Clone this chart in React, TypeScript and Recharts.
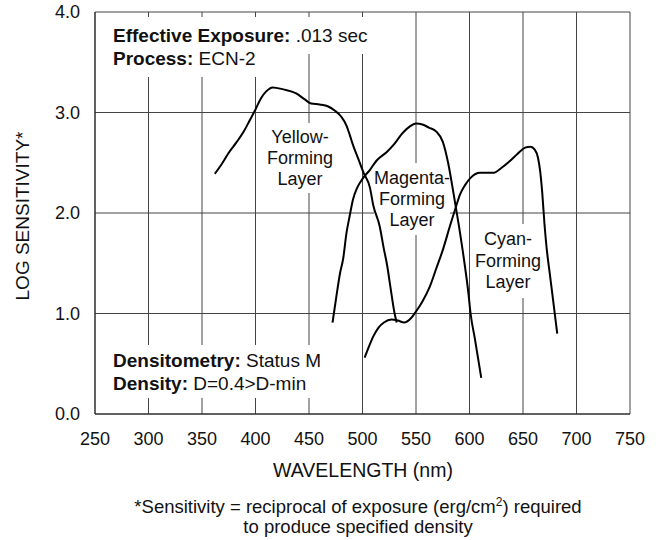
import React, { useLayoutEffect, useRef, useState } from 'react';
import { LineChart, Line, XAxis, YAxis, CartesianGrid, Customized } from 'recharts';

const FONT = '"Liberation Sans", Arial, Helvetica, sans-serif';

// spectral sensitivity curves, wavelength (nm) vs log sensitivity
const yellowNm = [362, 368, 375, 382, 389, 395, 400, 405, 410, 416, 426, 438, 446, 452, 460, 468, 474, 480, 485, 488, 491, 496, 501, 507, 510, 516, 520, 523, 526, 530, 532];
const yellowLog = [2.39, 2.48, 2.6, 2.7, 2.81, 2.93, 3.03, 3.14, 3.21, 3.25, 3.23, 3.19, 3.13, 3.09, 3.08, 3.06, 3.02, 2.96, 2.87, 2.78, 2.68, 2.54, 2.4, 2.25, 2.08, 1.87, 1.64, 1.48, 1.27, 1.0, 0.91];

const magentaNm = [472, 476, 479, 482, 485, 488, 491, 495, 500, 507, 513, 523, 530, 537, 544, 550, 556, 562, 569, 575, 580, 585, 590, 594, 599, 601, 605, 611];
const magentaLog = [0.91, 1.2, 1.4, 1.55, 1.8, 1.97, 2.13, 2.25, 2.34, 2.43, 2.52, 2.61, 2.69, 2.79, 2.86, 2.89, 2.88, 2.85, 2.81, 2.71, 2.5, 2.2, 1.88, 1.6, 1.2, 1.0, 0.75, 0.36];

const cyanNm = [502, 506, 510, 515, 520, 527, 533, 539, 545, 550, 556, 563, 569, 575, 582, 587, 591, 596, 601, 610, 622, 630, 637, 645, 652, 657, 661, 664, 666, 668, 670, 672, 675, 677, 682];
const cyanLog = [0.56, 0.67, 0.77, 0.86, 0.91, 0.94, 0.93, 0.91, 0.95, 1.02, 1.12, 1.27, 1.45, 1.63, 1.88, 2.05, 2.18, 2.28, 2.35, 2.4, 2.4, 2.45, 2.51, 2.59, 2.65, 2.66, 2.63, 2.55, 2.42, 2.2, 1.9, 1.66, 1.4, 1.23, 0.8];

const xTicks = [250, 300, 350, 400, 450, 500, 550, 600, 650, 700, 750];
const yTicks = [0, 1, 2, 3, 4];

const toPoints = (nm: number[], v: number[]) => nm.map((x, i) => ({ nm: x, v: v[i] }));

const layers = [
  { name: 'Yellow-Forming Layer', data: toPoints(yellowNm, yellowLog) },
  { name: 'Magenta-Forming Layer', data: toPoints(magentaNm, magentaLog) },
  { name: 'Cyan-Forming Layer', data: toPoints(cyanNm, cyanLog) },
];

type Note = { x: number; y: number; size: number; anchor?: 'start' | 'middle'; pad: number; bold?: string; text: string };

const notes: Note[] = [
  { x: 113, y: 42, size: 19, pad: 8, bold: 'Effective Exposure:', text: ' .013 sec' },
  { x: 113, y: 65, size: 19, pad: 8, bold: 'Process:', text: ' ECN-2' },
  { x: 113, y: 367, size: 19, pad: 5, bold: 'Densitometry:', text: ' Status M' },
  { x: 113, y: 390, size: 19, pad: 4, bold: 'Density:', text: ' D=0.4>D-min' },
  { x: 300, y: 143, size: 18, pad: 4, anchor: 'middle', text: 'Yellow-' },
  { x: 300, y: 164, size: 18, pad: 4, anchor: 'middle', text: 'Forming' },
  { x: 300, y: 185, size: 18, pad: 4, anchor: 'middle', text: 'Layer' },
  { x: 412, y: 184, size: 18, pad: 5, anchor: 'middle', text: 'Magenta-' },
  { x: 412, y: 205, size: 18, pad: 5, anchor: 'middle', text: 'Forming' },
  { x: 412, y: 226, size: 18, pad: 5, anchor: 'middle', text: 'Layer' },
  { x: 508, y: 245, size: 18, pad: 5, anchor: 'middle', text: 'Cyan-' },
  { x: 508, y: 267, size: 18, pad: 5, anchor: 'middle', text: 'Forming' },
  { x: 508, y: 288, size: 18, pad: 6, anchor: 'middle', text: 'Layer' },
];

const NoteText = ({ n, hidden }: { n: Note; hidden?: boolean }) => (
  <text x={n.x} y={n.y} fontSize={n.size} textAnchor={n.anchor || 'start'} visibility={hidden ? 'hidden' : undefined}>
    {n.bold && <tspan fontWeight="bold">{n.bold}</tspan>}
    <tspan>{n.text}</tspan>
  </text>
);

// white patch behind a note, sized from the rendered text
const NoteBox = ({ n }: { n: Note }) => {
  const ref = useRef<SVGGElement>(null);
  const [b, setB] = useState<{ x: number; y: number; w: number; h: number } | null>(null);
  useLayoutEffect(() => {
    if (ref.current) {
      const r = ref.current.getBBox();
      setB({ x: r.x, y: r.y, w: r.width, h: r.height });
    }
  }, []);
  return (
    <g>
      {b && <rect x={b.x - 5} y={b.y - n.pad} width={b.w + 10} height={b.h + 2 * n.pad} fill="#fff" />}
      <g ref={ref}>
        <NoteText n={n} hidden />
      </g>
    </g>
  );
};

const Notes = () => (
  <g fontFamily={FONT} fill="#111">
    {notes.map((n, i) => <NoteBox key={'b' + i} n={n} />)}
    {notes.map((n, i) => <NoteText key={'t' + i} n={n} />)}

    <g textAnchor="middle">
      <text x={363} y={477} fontSize={19.5}>WAVELENGTH (nm)</text>
      <text x={29} y={216} fontSize={19} transform="rotate(-90 29 216)">LOG SENSITIVITY*</text>
      <text x={358} y={513} fontSize={18.5}>
        *Sensitivity = reciprocal of exposure (erg/cm
        <tspan dy={-7} fontSize={12}>2</tspan>
        <tspan dy={7}>) required</tspan>
      </text>
      <text x={358} y={533} fontSize={18.5}>to produce specified density</text>
    </g>
  </g>
);

export default function App() {
  return (
    <div style={{ position: 'absolute', left: 0, top: 0, width: 660, height: 540, background: '#fff' }}>
      <LineChart width={660} height={540} margin={{ top: 12, right: 30, left: 0, bottom: 90 }}>
        <CartesianGrid stroke="#444" strokeWidth={1} />
        <XAxis
          dataKey="nm"
          type="number"
          domain={[250, 750]}
          ticks={xTicks}
          interval={0}
          height={36}
          tickLine={false}
          tickSize={0}
          tickMargin={18}
          axisLine={{ stroke: '#222' }}
          tick={{ fill: '#111', fontSize: 18, fontFamily: FONT }}
          allowDataOverflow
        />
        <YAxis
          dataKey="v"
          type="number"
          domain={[0, 4]}
          ticks={yTicks}
          interval={0}
          width={95}
          tickLine={false}
          tickSize={0}
          tickMargin={15}
          axisLine={{ stroke: '#222' }}
          tickFormatter={(t: number) => t.toFixed(1)}
          tick={{ fill: '#111', fontSize: 18, fontFamily: FONT }}
        />
        <Customized component={Notes} />
        {layers.map((l) => (
          <Line
            key={l.name}
            name={l.name}
            data={l.data}
            dataKey="v"
            type="monotone"
            stroke="#000"
            strokeWidth={2}
            dot={false}
            activeDot={false}
            isAnimationActive={false}
          />
        ))}
      </LineChart>
    </div>
  );
}
